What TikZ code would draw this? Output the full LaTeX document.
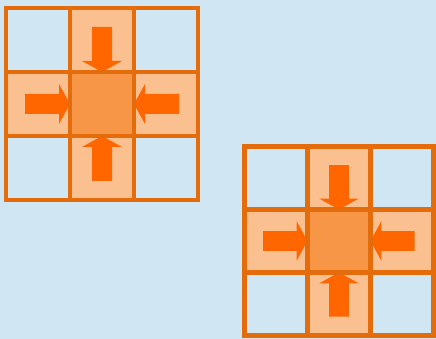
\documentclass[tikz,border=0pt]{standalone}
\definecolor{bgblue}{HTML}{D0E6F3}
\definecolor{gridline}{HTML}{E46C0A}
\definecolor{lightcell}{HTML}{FAC090}
\definecolor{midcell}{HTML}{F79646}
\definecolor{arrowfill}{HTML}{FF6600}
\tikzset{
  cellfill/.style={fill=lightcell},
  centerfill/.style={fill=midcell},
  gridstroke/.style={draw=gridline,line width=4.5pt},
  blockarrow/.style={fill=arrowfill},
  gridpic/.pic={
    \fill[cellfill] (64,0) rectangle (128,-64);
    \fill[cellfill] (0,-64) rectangle (64,-128);
    \fill[cellfill] (128,-64) rectangle (192,-128);
    \fill[cellfill] (64,-128) rectangle (128,-192);
    \fill[centerfill] (64,-64) rectangle (128,-128);
    \foreach \a in {0,90,180,270}{
      \fill[blockarrow,rotate around={\a:(96,-96)}]
        (86,-19) -- (106,-19) -- (106,-53) -- (116,-53) -- (96,-64)
        -- (76,-53) -- (86,-53) -- cycle;
    }
    \foreach \k in {0,64,128,192}{
      \draw[gridstroke] (\k,2.25) -- (\k,-194.25);
      \draw[gridstroke] (-2.25,-\k) -- (194.25,-\k);
    }
  }
}
\begin{document}
\begin{tikzpicture}[x=1pt,y=1pt]
  \fill[bgblue] (0,0) rectangle (436,339);
  \useasboundingbox (0,0) rectangle (436,339);
  \pic at (6,331) {gridpic};
  \begin{scope}
    \clip (0,0) rectangle (436,339);
    \pic[scale=0.984] at (244.5,192.5) {gridpic};
  \end{scope}
\end{tikzpicture}
\end{document}
